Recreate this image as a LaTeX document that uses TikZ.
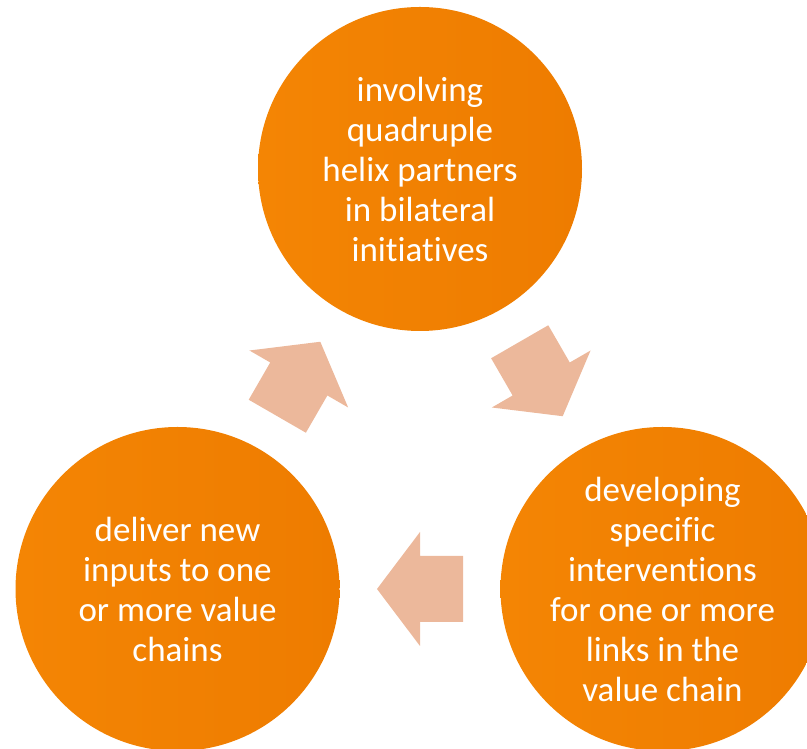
\documentclass[tikz,border=0pt]{standalone}
\usepackage{fontspec}
\setmainfont[Ligatures=NoCommon]{Carlito}
\usepackage{xcolor}
\definecolor{orangeA}{RGB}{244,133,4}
\definecolor{orangeB}{RGB}{238,124,0}
\definecolor{salmon}{RGB}{236,184,155}

\begin{document}
\begin{tikzpicture}[x=1pt,y=1pt,
  stage/.style={circle,minimum size=324pt,inner sep=0pt,left color=orangeA,right color=orangeB,
    text=white,align=center,font=\fontsize{35}{40}\selectfont},
  flow/.style={fill=salmon}]

\useasboundingbox (0,0) rectangle (807,749);
\clip (0,0) rectangle (807,749);

% three stages
\node[stage] (top) at (420,580) {involving\\quadruple\\helix partners\\in bilateral\\initiatives};
\node[stage] (right) at (662.5,160) {developing\\specific\\interventions\\for one or more\\links in the\\value chain};
\node[stage] (left) at (177.5,160) {deliver new\\inputs to one\\or more value\\chains};

% block arrows between the stages
\coordinate (a1) at (298.8,370);
\coordinate (a2) at (541.2,370);
\coordinate (a3) at (420,160);
\foreach \c/\ang in {a1/60,a2/-60,a3/180}
  \fill[flow,shift={(\c)},rotate=\ang] (43,0) -- (0,57) -- (0,33) -- (-43,33) -- (-43,-33) -- (0,-33) -- (0,-57) -- cycle;
\end{tikzpicture}
\end{document}
